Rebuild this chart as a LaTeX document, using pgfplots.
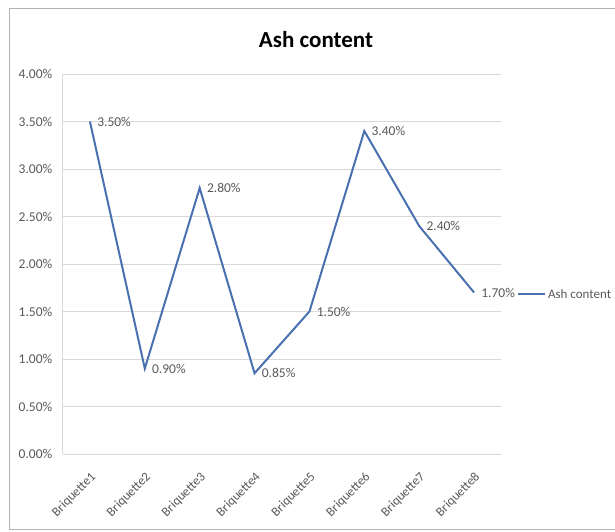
\documentclass[border=0pt]{standalone}
\usepackage{pgfplots}
\pgfplotsset{compat=1.18}
\usepackage{fontspec}
\setmainfont{Carlito}
\definecolor{serblue}{RGB}{74,112,176}
\definecolor{gridgrey}{RGB}{217,217,217}
\definecolor{txtgrey}{RGB}{89,89,89}
\begin{document}
\begin{tikzpicture}[x=1pt,y=1pt]
\path[use as bounding box] (0,0) rectangle (615,531);
\draw[gray!60, line width=1pt] (9.5,2) rectangle (616,522);
\node[font=\bfseries\fontsize{23}{25}\selectfont, anchor=base] at (316,483) {Ash content};
\begin{axis}[
  at={(62.5pt,77pt)}, anchor=south west,
  scale only axis, width=439pt, height=380pt,
  xmin=-0.5, xmax=7.5, ymin=0, ymax=4,
  xtick={0,...,7},
  xticklabels={Briquette1,Briquette2,Briquette3,Briquette4,Briquette5,Briquette6,Briquette7,Briquette8},
  x tick label style={xshift=4pt, yshift=-21pt, rotate=45, anchor=east, inner sep=0pt, font=\fontsize{13}{14}\selectfont, text=txtgrey},
  ytick={0,0.5,...,4},
  yticklabel={\pgfmathprintnumber[fixed,fixed zerofill,precision=2]{\tick}\%},
  y tick label style={font=\fontsize{13.5}{15}\selectfont, text=txtgrey, inner sep=0pt, xshift=-10pt},
  /pgf/number format/assume math mode=true,
  ymajorgrids, grid style={gridgrey, line width=0.8pt},
  axis x line*=bottom, axis y line*=left,
  axis line style={gridgrey, line width=0.8pt, -},
  major tick length=0pt,
  tick style={draw=none},
  clip=false,
  legend style={at={(1.035,0.42)}, anchor=west, draw=none, font=\fontsize{13}{14}\selectfont, text=txtgrey, fill=none, inner sep=0pt},
  legend cell align=left,
  legend image code/.code={\draw[serblue, line width=2pt] (0pt,0pt) -- (27pt,0pt);},
]
\addplot[serblue, line width=2pt, mark=none,
  nodes near coords={\pgfmathprintnumber[fixed,fixed zerofill,precision=2]{\pgfplotspointmeta}\%},
  every node near coord/.append style={anchor=west, font=\fontsize{13.5}{15}\selectfont, text=txtgrey, xshift=3pt},
] coordinates {
(0,3.50) (1,0.90) (2,2.80) (3,0.85) (4,1.50) (5,3.40) (6,2.40) (7,1.70)
};
\addlegendentry{Ash content}
\end{axis}
\end{tikzpicture}
\end{document}
